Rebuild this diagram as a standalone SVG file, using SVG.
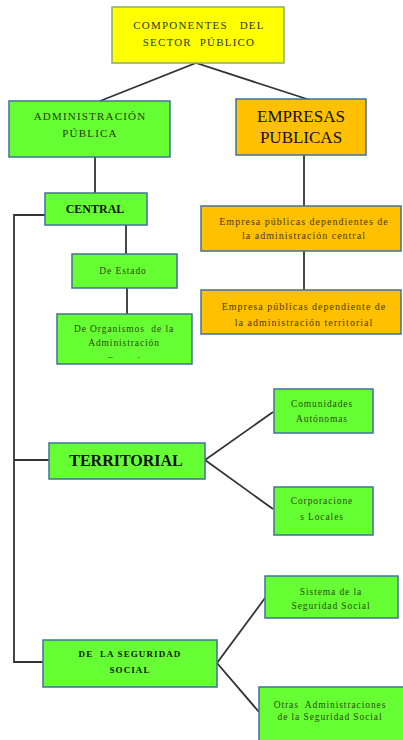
<svg xmlns="http://www.w3.org/2000/svg" width="403" height="740" viewBox="0 0 403 740">
<style>
.g{fill:#66FF33;stroke:#41719C;stroke-width:1.5}
.o{fill:#FFC000;stroke:#41719C;stroke-width:1.5}
.y{fill:#FFFF00;stroke:#8FAA6E;stroke-width:1.5}
text{font-family:"Liberation Serif","Times New Roman",serif;text-anchor:middle;dominant-baseline:central}
.t11{font-size:11px;fill:#2a3a10;letter-spacing:1.2px}
.s{font-size:9.5px;letter-spacing:0.9px;fill:#2a4a14}
.so{font-size:10px;letter-spacing:1px;fill:#4a3a00}
.b{font-weight:bold;fill:#111}
.c{stroke:#333;stroke-width:1.8;fill:none}
</style>
<defs>
<clipPath id="clipOrg"><rect x="57" y="314" width="135" height="44"/></clipPath>
</defs>
<g id="connectors">
<polyline class="c" points="100,101 196,63 310,100"/>
<line class="c" x1="95" y1="157" x2="95" y2="193"/>
<polyline class="c" points="45,215 14,215 14,662 43,662"/>
<line class="c" x1="14" y1="460" x2="49" y2="460"/>
<line class="c" x1="126" y1="225" x2="126" y2="254"/>
<line class="c" x1="127" y1="288" x2="127" y2="314"/>
<line class="c" x1="304" y1="155" x2="304" y2="206"/>
<line class="c" x1="304" y1="251" x2="304" y2="290"/>
<polyline class="c" points="273,412 205,460 273,509"/>
<polyline class="c" points="265,598 217,663 259,712"/>
</g>
<g id="componentes">
<rect class="y" x="112" y="7" width="172" height="56"/>
<text class="t11" x="199" y="25" xml:space="preserve" letter-spacing="1.4">COMPONENTES   DEL</text>
<text class="t11" x="199" y="42" xml:space="preserve" letter-spacing="1.4">SECTOR  PÚBLICO</text>
</g>
<g id="administracion">
<rect class="g" x="9" y="101" width="161" height="56"/>
<text class="t11" x="90" y="116" fill="#1f4a10">ADMINISTRACIÓN</text>
<text class="t11" x="90" y="133">PÚBLICA</text>
</g>
<g id="empresas">
<rect class="o" x="236" y="99" width="130" height="56"/>
<text x="301" y="116" font-size="17" fill="#111">EMPRESAS</text>
<text x="301" y="137" font-size="17" fill="#111">PUBLICAS</text>
</g>
<g id="central">
<rect class="g" x="45" y="193" width="102" height="32"/>
<text class="b" x="95" y="209" font-size="12">CENTRAL</text>
</g>
<g id="emp-central">
<rect class="o" x="201" y="206" width="200" height="45"/>
<text class="so" x="304" y="221">Empresa públicas dependientes de</text>
<text class="so" x="304" y="235">la administración central</text>
</g>
<g id="emp-territorial">
<rect class="o" x="201" y="290" width="200" height="44"/>
<text class="so" x="304" y="306">Empresa públicas dependiente de</text>
<text class="so" x="304" y="322">la administración territorial</text>
</g>
<g id="estado">
<rect class="g" x="72" y="254" width="105" height="34"/>
<text class="s" x="123" y="271">De Estado</text>
</g>
<g id="organismos">
<rect class="g" x="57" y="314" width="135" height="50"/>
<text class="s" x="124" y="329" xml:space="preserve">De Organismos  de la</text>
<text class="s" x="124" y="343">Administración</text>
<text class="s" x="124" y="361" clip-path="url(#clipOrg)">Central</text>
</g>
<g id="territorial">
<rect class="g" x="49" y="443" width="156" height="36"/>
<text class="b" x="126" y="460" font-size="16">TERRITORIAL</text>
</g>
<g id="comunidades">
<rect class="g" x="274" y="389" width="99" height="44"/>
<text class="s" x="322" y="404">Comunidades</text>
<text class="s" x="322" y="419">Autónomas</text>
</g>
<g id="corporaciones">
<rect class="g" x="274" y="487" width="99" height="48"/>
<text class="s" x="322" y="501">Corporacione</text>
<text class="s" x="322" y="517">s Locales</text>
</g>
<g id="seguridad">
<rect class="g" x="43" y="640" width="174" height="47"/>
<text class="b" x="130" y="654" font-size="9" letter-spacing="1.1" xml:space="preserve">DE  LA SEGURIDAD</text>
<text class="b" x="130" y="670" font-size="9" letter-spacing="1.1">SOCIAL</text>
</g>
<g id="sistema">
<rect class="g" x="265" y="576" width="133" height="42"/>
<text class="s" x="331" y="592">Sistema de la</text>
<text class="s" x="331" y="606">Seguridad Social</text>
</g>
<g id="otras">
<rect class="g" x="259" y="687" width="146" height="60"/>
<text class="s" x="330" y="705" xml:space="preserve">Otras  Administraciones</text>
<text class="s" x="330" y="717">de la Seguridad Social</text>
</g>
</svg>
